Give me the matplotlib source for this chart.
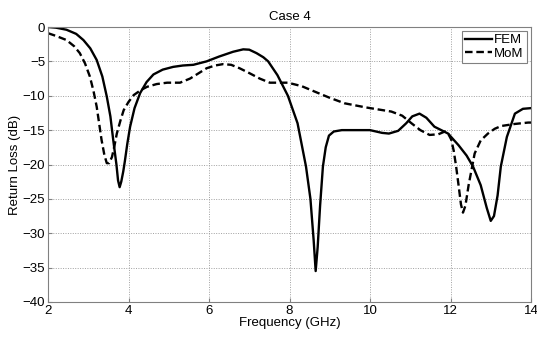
import matplotlib
matplotlib.use('Agg')
import matplotlib.pyplot as plt

plt.rcParams['font.family'] = ['Liberation Sans', 'DejaVu Sans']

# FEM curve (solid)
fem_freq = [2.0, 2.2, 2.46, 2.7, 2.88, 3.05, 3.21, 3.35, 3.46, 3.55, 3.62, 3.7, 3.74, 3.78,
            3.82, 3.87, 3.91, 3.97, 4.04, 4.15, 4.29, 4.45, 4.62, 4.85, 5.11, 5.35, 5.61,
            5.94, 6.25, 6.6, 6.85, 7.0, 7.18, 7.35, 7.47, 7.7, 7.96, 8.2, 8.41, 8.52,
            8.6, 8.65, 8.7, 8.76, 8.83, 8.9, 8.98, 9.1, 9.3, 9.6, 10.0, 10.3, 10.47,
            10.7, 10.9, 11.05, 11.23, 11.4, 11.6, 11.94, 12.2, 12.4, 12.56, 12.75, 12.9,
            13.0, 13.08, 13.17, 13.25, 13.4, 13.6, 13.8, 14.0]
fem_rl = [0.0, -0.1, -0.4, -1.0, -1.9, -3.1, -4.8, -7.2, -10.1, -13.0, -16.4, -20.0, -22.3, -23.3,
          -22.5, -21.0, -19.5, -17.0, -14.5, -11.8, -9.6, -8.0, -6.9, -6.2, -5.8, -5.6, -5.5,
          -5.0, -4.3, -3.6, -3.25, -3.3, -3.8, -4.4, -5.0, -7.0, -10.0, -14.0, -20.3, -25.0,
          -31.0, -35.5, -32.0, -26.0, -20.3, -17.5, -15.8, -15.2, -15.0, -15.0, -15.0, -15.4, -15.5,
          -15.1, -14.0, -13.0, -12.6, -13.2, -14.5, -15.5, -17.2, -18.7, -20.3, -23.0, -26.3,
          -28.2, -27.5, -24.5, -20.3, -16.0, -12.6, -11.9, -11.8]

# MoM curve (dashed)
mom_freq = [2.0, 2.2, 2.46, 2.65, 2.79, 2.92, 3.04, 3.13, 3.21, 3.27, 3.33, 3.4, 3.46, 3.52,
            3.59, 3.65, 3.71, 3.8, 3.88, 4.0, 4.13, 4.3, 4.46, 4.7, 4.96, 5.28, 5.53, 5.75,
            5.94, 6.15, 6.35, 6.55, 6.76, 7.0, 7.26, 7.51, 7.96, 8.3, 8.71, 9.0, 9.37, 9.9,
            10.53, 10.8, 11.03, 11.25, 11.48, 11.7, 11.86, 11.95, 12.02, 12.08, 12.14, 12.2,
            12.26, 12.31, 12.37, 12.45, 12.6, 12.75, 12.93, 13.1, 13.26, 13.6, 13.93, 14.0]
mom_rl = [-0.9, -1.3, -1.9, -2.8, -3.8, -5.3, -7.2, -9.3, -11.6, -14.0, -16.4, -18.6, -19.8, -19.8,
          -18.9, -17.3, -15.5, -13.6, -12.1, -10.9, -9.9, -9.2, -8.7, -8.3, -8.1, -8.1, -7.5, -6.7,
          -6.0, -5.6, -5.4, -5.5, -6.0, -6.7, -7.5, -8.1, -8.1, -8.6, -9.6, -10.3, -11.1, -11.7,
          -12.3, -12.9, -14.0, -15.0, -15.7, -15.6, -15.2, -15.6, -16.4, -18.0, -20.3, -23.0,
          -25.8, -27.0, -26.0, -23.0, -18.4, -16.5, -15.5, -14.8, -14.4, -14.1, -13.9, -13.9]

x_ticks = [2, 4, 6, 8, 10, 12, 14]
y_ticks = [0, -5, -10, -15, -20, -25, -30, -35, -40]

fig = plt.figure(figsize=(5.37, 3.38), dpi=100)
ax = fig.add_axes([48 / 537, 1 - 302 / 338, 483 / 537, 275 / 338])

ax.plot(fem_freq, fem_rl, color='black', linewidth=1.7, linestyle='-', label='FEM')
ax.plot(mom_freq, mom_rl, color='black', linewidth=1.7, linestyle=(0, (3.2, 1.6)), label='MoM')

ax.set_xlim(2, 14)
ax.set_ylim(-40, 0)
ax.set_xticks(x_ticks)
ax.set_yticks(y_ticks)
ax.tick_params(direction='in', labelsize=9.5, length=3, color='#808080', pad=2)
ax.grid(True, linestyle=(0, (1, 1.5)), color='#a0a0a0', linewidth=0.7)
for sp in ax.spines.values():
    sp.set_color('#808080')
    sp.set_linewidth(0.8)

ax.set_xlabel('Frequency (GHz)', fontsize=9.5, labelpad=0)
ax.set_ylabel('Return Loss (dB)', fontsize=9.5, labelpad=1)
ax.set_title('Case 4', fontsize=9.5, pad=5)

leg = ax.legend(loc='upper right', fontsize=9.5, fancybox=False, framealpha=1,
                handlelength=2.0, handletextpad=0.2, borderpad=0.25, labelspacing=0.1,
                borderaxespad=0.3)
leg.get_frame().set_edgecolor('#808080')
leg.get_frame().set_linewidth(0.8)

fig.savefig('out.png', dpi=100)
